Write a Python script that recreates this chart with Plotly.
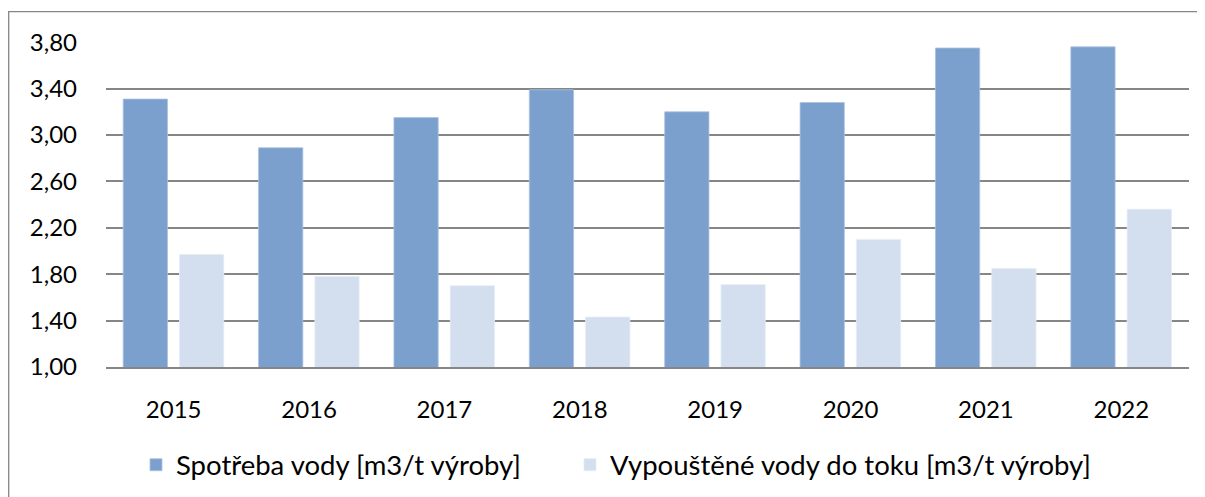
import plotly.graph_objects as go

years = ["2015", "2016", "2017", "2018", "2019", "2020", "2021", "2022"]
spotreba = [3.31, 2.89, 3.15, 3.39, 3.20, 3.28, 3.75, 3.76]
vypustene = [1.97, 1.78, 1.70, 1.43, 1.71, 2.10, 1.85, 2.36]
name_a = "Spotřeba vody [m3/t výroby]"
name_b = "Vypouštěné vody do toku [m3/t výroby]"
tick_vals = [1.0, 1.4, 1.8, 2.2, 2.6, 3.0, 3.4, 3.8]
tick_text = ["1,00", "1,40", "1,80", "2,20", "2,60", "3,00", "3,40", "3,80"]

FONT = "Lato, Carlito, Calibri, sans-serif"
GRID = "#868686"

# page body has an 8px default margin; figure size compensates
W, H = 1197, 489
L, R, T, B = 98, 16, 33.5, 130
PW = W - L - R
PH = H - T - B

BAR_W = 0.327
fig = go.Figure()
fig.add_trace(go.Bar(x=years, y=spotreba, name=name_a, legend="legend",
                     width=BAR_W, offset=-0.373,
                     marker=dict(color="#7BA0CD", line=dict(color="#A9C1E0", width=0.8))))
fig.add_trace(go.Bar(x=years, y=vypustene, name=name_b, legend="legend2",
                     width=BAR_W, offset=0.043,
                     marker=dict(color="#D3DFEE", line=dict(color="#E4ECF5", width=0.8))))

leg_y = -(465 - 367) / PH
fig.update_layout(
    width=W, height=H,
    margin=dict(l=L, r=R, t=T, b=B, autoexpand=False),
    paper_bgcolor="white", plot_bgcolor="white",
    barmode="overlay",
    font=dict(family=FONT, size=24, color="#000000"),
    showlegend=True,
    legend=dict(orientation="h", x=(136 - 8 - L) / PW, xanchor="left", y=leg_y, yanchor="middle",
                font=dict(size=27.5)),
    legend2=dict(orientation="h", x=(570 - 8 - L) / PW, xanchor="left", y=leg_y, yanchor="middle",
                 font=dict(size=27.5)),
    xaxis=dict(showgrid=False, showline=True, linecolor=GRID, linewidth=1.5,
               range=[-0.5, len(years) - 0.5],
               ticks="", ticklabelstandoff=20, tickfont=dict(size=24)),
    yaxis=dict(range=[1.0, 3.802], tickvals=tick_vals, ticktext=tick_text,
               showgrid=True, gridcolor=GRID, gridwidth=1.5, zeroline=False,
               showline=False, ticks="", ticklabelstandoff=28, tickfont=dict(size=24)),
    shapes=[dict(type="rect", xref="paper", yref="paper",
                 x0=(0.7 - L) / PW, x1=(W + 10 - L) / PW,
                 y0=-(B + 10) / PH, y1=(H - B - 3) / PH,
                 line=dict(color=GRID, width=1.3), fillcolor="rgba(0,0,0,0)", layer="below")],
)

fig.write_html("out.html")
